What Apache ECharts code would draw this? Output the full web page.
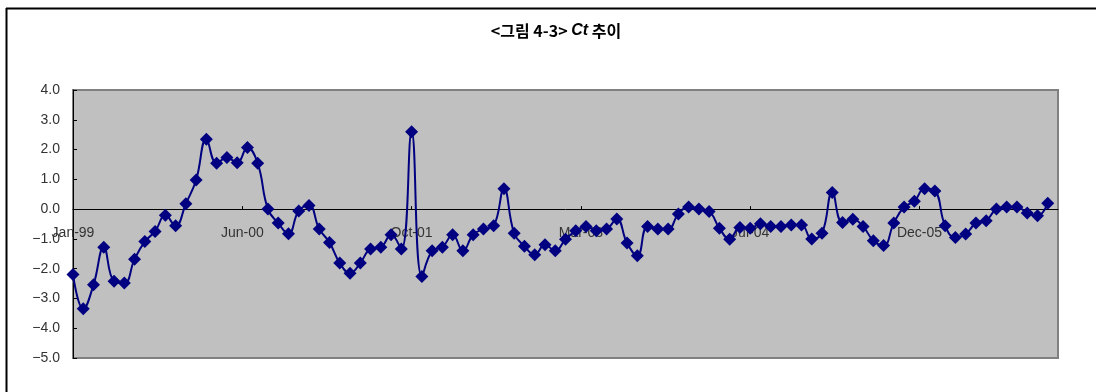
<!DOCTYPE html>
<html>
<head>
<meta charset="utf-8">
<script src="https://cdn.jsdelivr.net/npm/echarts@6/dist/echarts.min.js"></script>
<style>
  html, body { margin: 0; padding: 0; background: #ffffff; }
  #chart { width: 1096px; height: 392px; }
</style>
</head>
<body>
<div id="chart"></div>
<script>
// Monthly Ct values, Jan-99 through Dec-06 (index 0 = Jan-99)
const ctValues = [
  -2.20, -3.35, -2.54, -1.28, -2.42, -2.48, -1.68, -1.09, -0.75, -0.21, -0.56, 0.18,
   0.98,  2.35,  1.54,  1.73,  1.56,  2.07,  1.54,  0.00, -0.47, -0.83, -0.06, 0.12,
  -0.67, -1.12, -1.81, -2.15, -1.81, -1.34, -1.28, -0.86, -1.34,  2.60, -2.26, -1.40,
  -1.28, -0.86, -1.40, -0.86, -0.67, -0.56,  0.68, -0.81, -1.25, -1.53, -1.20, -1.40,
  -1.01, -0.73, -0.58, -0.73, -0.67, -0.33, -1.14, -1.57, -0.58, -0.67, -0.67, -0.16,
   0.07,  0.00, -0.08, -0.64, -1.01, -0.62, -0.64, -0.49, -0.58, -0.58, -0.53, -0.53,
  -1.00, -0.81,  0.56, -0.45, -0.34, -0.58, -1.06, -1.22, -0.47,  0.07,  0.26, 0.68,
   0.61, -0.56, -0.95, -0.84, -0.47, -0.39,  0.00,  0.07,  0.07, -0.13, -0.22, 0.20
];

// Date-axis ticks, in months from Jan-99, with their labels
const tickMonths = [0, 16.5, 33, 49.5, 66, 82.5];
const tickLabels = ['Jan-99', 'Jun-00', 'Oct-01', 'Mar-03', 'Jul-04', 'Dec-05'];

const yMin = -5, yMax = 4;
const gridTop = 90, gridBottom = 34, chartHeight = 392;
// the category axis crosses the value axis at 0
const plotHeight = chartHeight - gridTop - gridBottom;
const zeroOffset = -plotHeight * (0 - yMin) / (yMax - yMin);

const axisFont = 'Liberation Sans, Arial, sans-serif';

const chart = echarts.init(document.getElementById('chart'), null, { renderer: 'canvas' });

chart.setOption({
  animation: false,
  backgroundColor: '#ffffff',
  graphic: [
    { type: 'line', shape: { x1: 6.5, y1: 8, x2: 6.5, y2: 392 }, style: { stroke: '#000', lineWidth: 2 }, z: 100 },
    { type: 'line', shape: { x1: 6, y1: 8.5, x2: 1096, y2: 8.5 }, style: { stroke: '#000', lineWidth: 2 }, z: 100 },
    {
      type: 'text', x: 556, y: 31, z: 100,
      style: {
        text: '{a|<그림 4-3> }{b|Ct}{a| 추이}',
        textAlign: 'center', textVerticalAlign: 'middle',
        rich: {
          a: { fontFamily: 'Noto Sans CJK KR', fontWeight: 'bold', fontSize: 16, fill: '#000' },
          b: { fontFamily: 'Liberation Sans, Arial', fontStyle: 'italic', fontWeight: 'bold', fontSize: 16, fill: '#000' }
        }
      }
    }
  ],
  grid: {
    left: 73, right: 38, top: gridTop, bottom: gridBottom,
    show: true, backgroundColor: '#c0c0c0', borderColor: '#808080', borderWidth: 2
  },
  xAxis: {
    type: 'value',
    min: 0, max: 96,
    position: 'bottom',
    offset: zeroOffset,
    axisLine: { onZero: false, lineStyle: { color: '#000', width: 1 } },
    axisTick: { show: true, inside: true, length: 3, customValues: tickMonths, lineStyle: { color: '#000' } },
    axisLabel: {
      customValues: tickMonths,
      margin: 17,
      fontFamily: axisFont, fontSize: 14, color: '#333',
      formatter: function (v) {
        const k = tickMonths.indexOf(v);
        return k >= 0 ? tickLabels[k] : '';
      }
    },
    splitLine: { show: false }
  },
  yAxis: {
    type: 'value',
    min: yMin, max: yMax, interval: 1,
    axisLine: { show: true, onZero: false, lineStyle: { color: '#000', width: 1 } },
    axisTick: { show: true, inside: true, length: 4, lineStyle: { color: '#000' } },
    axisLabel: {
      margin: 13,
      fontFamily: axisFont, fontSize: 14, color: '#333',
      formatter: function (v) { return (v < 0 ? '\u2212' : '') + Math.abs(v).toFixed(1); }
    },
    splitLine: { show: false }
  },
  series: [{
    type: 'line',
    data: ctValues.map((v, i) => [i, v]),
    smooth: 0.45,
    symbol: 'diamond',
    symbolSize: 13,
    itemStyle: { color: '#000080' },
    lineStyle: { color: '#000080', width: 2 },
    z: 5
  }]
});
</script>
</body>
</html>
